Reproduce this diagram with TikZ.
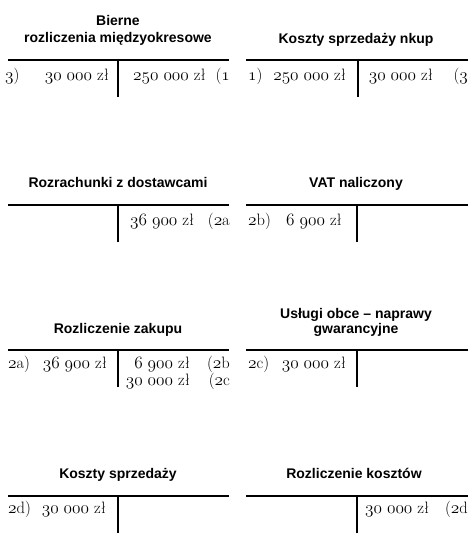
\documentclass[tikz,border=0pt]{standalone}
\usepackage{fontspec}
\newfontfamily\titlefont{Liberation Sans}
\newcommand\osn[1]{{\spaceskip\fontdimen2\font\usefont{OML}{lmm}{m}{it}#1}}
\begin{document}
\begin{tikzpicture}[x=1pt,y=-1pt,
  tline/.style={line width=2.8pt},
  ttl/.style={font=\titlefont\bfseries\fontsize{14}{16}\selectfont, inner sep=0pt, anchor=base},
  amt/.style={font=\fontsize{16.5}{18}\selectfont, inner sep=0pt},
  amtw/.style={amt, anchor=base west},
  amte/.style={amt, anchor=base east}]
\useasboundingbox[fill=white] (0,0) rectangle (473,546);

% ---------- Row 1 ----------
\node[ttl] (t1a) at (118,25) {Bierne};
\node[ttl] (t1b) at (118,42) {rozliczenia międzyokresowe};
\coordinate (h1l) at (8,60); \coordinate (h1r) at (229,60);
\coordinate (v1t) at (118,60); \coordinate (v1b) at (118,97);
\draw[tline] (h1l) -- (h1r); \draw[tline] (v1t) -- (v1b);
\node[amtw] (r1a) at (5,80) {\osn{3})};
\node[amte] (r1b) at (109,80) {\osn{30 000} zł};
\node[amtw] (r1c) at (133,80) {\osn{250 000} zł};
\node[amte] (r1d) at (230,80) {(\osn{1}};

\node[ttl] (t2) at (356,43) {Koszty sprzedaży nkup};
\coordinate (h2l) at (246,60); \coordinate (h2r) at (468,60);
\coordinate (v2t) at (358,60); \coordinate (v2b) at (358,97);
\draw[tline] (h2l) -- (h2r); \draw[tline] (v2t) -- (v2b);
\node[amtw] (r2a) at (248,80) {\osn{1})};
\node[amte] (r2b) at (346,80) {\osn{250 000} zł};
\node[amte] (r2c) at (433,80) {\osn{30 000} zł};
\node[amte] (r2d) at (468,80) {(\osn{3}};

% ---------- Row 2 ----------
\node[ttl] (t3) at (118,187) {Rozrachunki z dostawcami};
\coordinate (h3l) at (8,205); \coordinate (h3r) at (229,205);
\coordinate (v3t) at (118,205); \coordinate (v3b) at (118,242);
\draw[tline] (h3l) -- (h3r); \draw[tline] (v3t) -- (v3b);
\node[amtw] (r3a) at (130,225) {\osn{36 900} zł};
\node[amte] (r3b) at (230,225) {(\osn{2}a};

\node[ttl] (t4) at (356,187) {VAT naliczony};
\coordinate (h4l) at (246,205); \coordinate (h4r) at (468,205);
\coordinate (v4t) at (357,205); \coordinate (v4b) at (357,242);
\draw[tline] (h4l) -- (h4r); \draw[tline] (v4t) -- (v4b);
\node[amtw] (r4a) at (248,225) {\osn{2}b)};
\node[amtw] (r4b) at (286,225) {\osn{6 900} zł};

% ---------- Row 3 ----------
\node[ttl] (t5) at (118,333) {Rozliczenie zakupu};
\coordinate (h5l) at (8,350); \coordinate (h5r) at (229,350);
\coordinate (v5t) at (118,350); \coordinate (v5b) at (118,387);
\draw[tline] (h5l) -- (h5r); \draw[tline] (v5t) -- (v5b);
\node[amtw] (r5a) at (8,368) {\osn{2}a)};
\node[amte] (r5b) at (107,368) {\osn{36 900} zł};
\node[amte] (r5c) at (190,368) {\osn{6 900} zł};
\node[amte] (r5d) at (230,368) {(\osn{2}b};
\node[amte] (r5e) at (190,385) {\osn{30 000} zł};
\node[amte] (r5f) at (230,385) {(\osn{2}c};

\node[ttl] (t6a) at (356,318) {Usługi obce – naprawy};
\node[ttl] (t6b) at (356,333) {gwarancyjne};
\coordinate (h6l) at (246,350); \coordinate (h6r) at (468,350);
\coordinate (v6t) at (357,350); \coordinate (v6b) at (357,387);
\draw[tline] (h6l) -- (h6r); \draw[tline] (v6t) -- (v6b);
\node[amtw] (r6a) at (248,368) {\osn{2}c)};
\node[amte] (r6b) at (346,368) {\osn{30 000} zł};

% ---------- Row 4 ----------
\node[ttl] (t7) at (118,478) {Koszty sprzedaży};
\coordinate (h7l) at (8,496); \coordinate (h7r) at (229,496);
\coordinate (v7t) at (118,496); \coordinate (v7b) at (118,533);
\draw[tline] (h7l) -- (h7r); \draw[tline] (v7t) -- (v7b);
\node[amtw] (r7a) at (8,513) {\osn{2}d)};
\node[amte] (r7b) at (106,513) {\osn{30 000} zł};

\node[ttl] (t8) at (354,478) {Rozliczenie kosztów};
\coordinate (h8l) at (246,496); \coordinate (h8r) at (468,496);
\coordinate (v8t) at (357,496); \coordinate (v8b) at (357,533);
\draw[tline] (h8l) -- (h8r); \draw[tline] (v8t) -- (v8b);
\node[amtw] (r8a) at (365,513) {\osn{30 000} zł};
\node[amte] (r8b) at (468,513) {(\osn{2}d};
\end{tikzpicture}
\end{document}
